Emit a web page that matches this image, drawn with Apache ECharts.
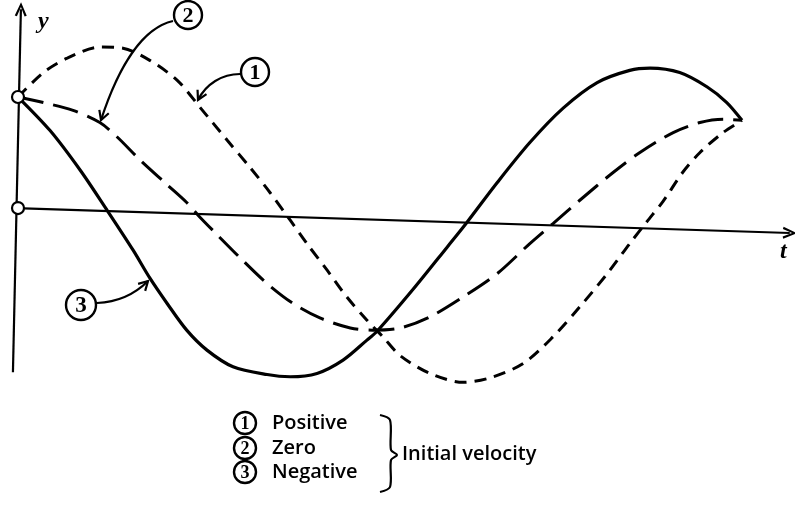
<!DOCTYPE html>
<html>
<head>
<meta charset="utf-8" />
<title>Initial velocity</title>
<script src="https://cdn.jsdelivr.net/npm/echarts@6/dist/echarts.min.js"></script>
<style>html,body{margin:0;padding:0;background:#fff;}</style>
</head>
<body>
<div id="main" style="width:795px;height:519px;"></div>
<script type="text/javascript">
// values: t goes 0..10 over one period, y in units of the start height
var tPositive = [0, 0.35, 0.68, 1.13, 1.45, 1.82, 2.20, 2.51, 2.89, 3.20, 3.48, 3.76, 3.99, 4.27, 4.54, 4.82, 5.04, 5.28, 5.69, 6.15, 6.52, 6.98, 7.39, 7.76, 8.14, 8.45, 8.69, 8.91, 9.18, 9.42, 9.74, 10];
var yPositive = [1.00, 1.22, 1.35, 1.45, 1.44, 1.33, 1.15, 0.91, 0.61, 0.37, 0.14, -0.11, -0.32, -0.56, -0.80, -1.01, -1.16, -1.33, -1.49, -1.57, -1.53, -1.40, -1.16, -0.89, -0.59, -0.32, -0.12, 0.06, 0.32, 0.50, 0.68, 0.79];

var tZero = [0, 0.35, 0.76, 1.13, 1.37, 1.69, 2.06, 2.33, 2.51, 2.75, 3.07, 3.44, 3.80, 4.17, 4.59, 4.90, 5.28, 5.69, 6.15, 6.62, 7.07, 7.39, 7.76, 8.22, 8.59, 9.05, 9.42, 9.74, 10];
var yZero = [1.00, 0.95, 0.88, 0.77, 0.64, 0.43, 0.21, 0.05, -0.08, -0.24, -0.45, -0.68, -0.86, -0.99, -1.08, -1.10, -1.08, -0.98, -0.80, -0.59, -0.32, -0.14, 0.07, 0.32, 0.50, 0.68, 0.77, 0.80, 0.79];

var tNegative = [0, 0.44, 0.86, 1.23, 1.59, 1.82, 2.06, 2.33, 2.61, 2.97, 3.44, 3.76, 4.13, 4.49, 4.82, 4.96, 5.46, 5.93, 6.20, 6.62, 7.07, 7.53, 8.00, 8.45, 8.73, 9.14, 9.52, 9.79, 10];
var yNegative = [1.00, 0.70, 0.34, -0.02, -0.38, -0.63, -0.86, -1.10, -1.28, -1.43, -1.50, -1.52, -1.49, -1.37, -1.19, -1.11, -0.73, -0.35, -0.13, 0.23, 0.59, 0.90, 1.13, 1.24, 1.26, 1.22, 1.09, 0.95, 0.79];

var startPoints = [[0, 1], [0, 0]];
var tAxisLine = [[-0.03, 0], [10.66, -0.225]];
var yAxisLine = [[-0.07, -1.48], [0.04, 1.79]];
var legendNames = ['Positive', 'Zero', 'Negative'];
var legendNote = 'Initial velocity';

function pairs(ts, ys) {
  return ts.map(function (t, i) { return [t, ys[i]]; });
}

// open V arrow head, tip pointing up
var vArrow = 'path://M5,0 L10,12 L8.2,12.6 L5,4.2 L1.8,12.6 L0,12 Z';

function arrowHead(tip, from) {
  var dx = tip[0] - from[0], dy = tip[1] - from[1];
  var len = Math.sqrt(dx * dx + dy * dy);
  dx /= len; dy /= len;
  var bx = tip[0] - dx * 9, by = tip[1] - dy * 9;
  return {
    type: 'polyline',
    shape: { points: [[bx + dy * 5, by - dx * 5], tip, [bx - dy * 5, by + dx * 5]] },
    style: { stroke: '#000', lineWidth: 2.2, fill: null },
    z: 20
  };
}

function circled(cx, cy, r, txt, size) {
  return [
    { type: 'circle', shape: { cx: cx, cy: cy, r: r }, style: { fill: '#fff', stroke: '#000', lineWidth: 2.4 }, z: 20 },
    { type: 'text', x: cx, y: cy + 1, z: 21,
      style: { text: txt, font: 'bold ' + size + 'px "Liberation Serif"', fill: '#000', textAlign: 'center', verticalAlign: 'middle' } }
  ];
}

var myChart = echarts.init(document.getElementById('main'));

var graphics = [];
// labels on the curves
graphics = graphics.concat(circled(188, 15, 14, '2', 22));
graphics.push({ type: 'bezierCurve', z: 20, shape: { x1: 173, y1: 21, cpx1: 142, cpy1: 28, cpx2: 118, cpy2: 68, x2: 101, y2: 120 }, style: { stroke: '#000', lineWidth: 2.2, fill: null } });
graphics.push(arrowHead([101, 120], [110, 95]));

graphics = graphics.concat(circled(255, 72, 14, '1', 22));
graphics.push({ type: 'bezierCurve', z: 20, shape: { x1: 240, y1: 74, cpx1: 222, cpy1: 74, cpx2: 206, cpy2: 84, x2: 198, y2: 100 }, style: { stroke: '#000', lineWidth: 2.2, fill: null } });
graphics.push(arrowHead([198, 100], [204, 88]));

graphics = graphics.concat(circled(81, 305, 15, '3', 23));
graphics.push({ type: 'bezierCurve', z: 20, shape: { x1: 97, y1: 303, cpx1: 120, cpy1: 302, cpx2: 137, cpy2: 292, x2: 148, y2: 281 }, style: { stroke: '#000', lineWidth: 2.2, fill: null } });
graphics.push(arrowHead([148, 281], [139, 290]));

// axis names
graphics.push({ type: 'text', x: 38, y: 10, z: 20, style: { text: 'y', font: 'italic bold 24px "Liberation Serif"', fill: '#000' } });
graphics.push({ type: 'text', x: 780, y: 240, z: 20, style: { text: 't', font: 'italic bold 24px "Liberation Serif"', fill: '#000' } });

// key under the chart
var keyY = [423, 448, 472];
for (var i = 0; i < legendNames.length; i++) {
  graphics = graphics.concat(circled(245, keyY[i], 11, String(i + 1), 18));
  graphics.push({ type: 'text', x: 272, y: keyY[i], z: 20,
    style: { text: legendNames[i], font: '600 20px "Open Sans"', fill: '#000', verticalAlign: 'middle' } });
}
graphics.push({ type: 'polyline', z: 20, shape: { smooth: 0.3, points: [[380, 415], [390, 420], [391, 450], [397, 455], [391, 460], [390, 487], [380, 492]] },
  style: { stroke: '#000', lineWidth: 2.2, fill: null } });
graphics.push({ type: 'text', x: 402, y: 454, z: 20,
  style: { text: legendNote, font: '600 20px "Open Sans"', fill: '#000', verticalAlign: 'middle' } });

var option = {
  animation: false,
  grid: { left: 10.76, right: 2.34, top: 8.2, bottom: 127.8 },
  xAxis: { type: 'value', min: -0.1, max: 10.7, show: false },
  yAxis: { type: 'value', min: -1.65, max: 1.8, show: false },
  graphic: graphics,
  series: [
    {
      name: 'axes', type: 'line', data: [], clip: false, silent: true,
      markLine: {
        silent: true, animation: false,
        symbol: ['none', vArrow], symbolSize: [12, 14],
        label: { show: false },
        lineStyle: { color: '#000', width: 2.2, type: 'solid' },
        emphasis: { disabled: true },
        data: [
          [{ coord: tAxisLine[0] }, { coord: tAxisLine[1] }],
          [{ coord: yAxisLine[0] }, { coord: yAxisLine[1] }]
        ]
      }
    },
    {
      name: legendNames[0], type: 'line', data: pairs(tPositive, yPositive), smooth: 0.3,
      symbol: 'none', clip: false, z: 3,
      lineStyle: { color: '#000', width: 3, type: [12, 8], cap: 'butt' }
    },
    {
      name: legendNames[1], type: 'line', data: pairs(tZero, yZero), smooth: 0.3,
      symbol: 'none', clip: false, z: 3,
      lineStyle: { color: '#000', width: 3, type: [26, 10], cap: 'butt' }
    },
    {
      name: legendNames[2], type: 'line', data: pairs(tNegative, yNegative), smooth: 0.3,
      symbol: 'none', clip: false, z: 3,
      lineStyle: { color: '#000', width: 3.2, type: 'solid' }
    },
    {
      name: 'start', type: 'scatter', data: startPoints, symbol: 'circle', symbolSize: 12, z: 10,
      itemStyle: { color: '#fff', opacity: 1, borderColor: '#000', borderWidth: 2.2 }, silent: true
    }
  ]
};

myChart.setOption(option);
</script>
</body>
</html>
